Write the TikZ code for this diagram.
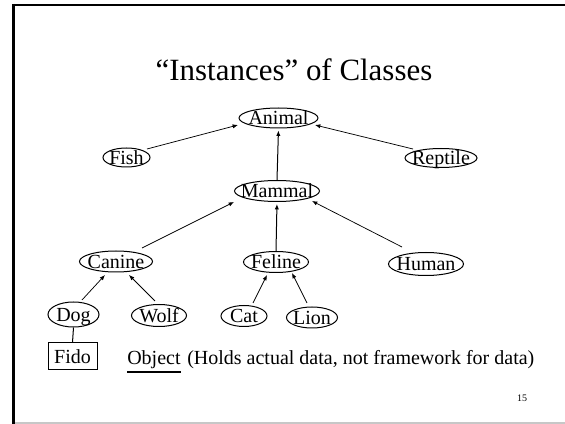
\documentclass[tikz,border=0pt]{standalone}
\usepackage{fontspec}
\setmainfont{Liberation Serif}
\usetikzlibrary{shapes.geometric,arrows.meta,calc}

% one screen pixel
\newdimen\pxu
\pxu=0.75pt
% label of zero width, so the ellipse size comes from the style alone
\newcommand{\lbl}[1]{\makebox[0pt]{#1}}

\tikzset{
  cls/.style 2 args={ellipse, draw, line width=1\pxu, inner sep=0pt,
    text height=9.9pt, text depth=0pt,
    minimum width=#1\pxu, minimum height=#2\pxu,
    font=\fontsize{15}{18}\selectfont},
  objbox/.style={rectangle, draw, line width=1\pxu, inner sep=0pt,
    text height=9.9pt, text depth=0pt,
    minimum width=49\pxu, minimum height=27\pxu,
    font=\fontsize{15}{18}\selectfont},
  plain/.style={inner sep=0pt, font=\fontsize{15}{18}\selectfont},
  isa/.style={line width=0.55pt, -{Latex[length=4pt, width=3.2pt]}},
  isav/.style={isa, line width=0.75pt, shorten >=2\pxu},
}

\begin{document}
\begin{tikzpicture}[x=0.75pt, y=-0.75pt]
  \useasboundingbox (0,0) rectangle (565,424);
  \fill[white] (0,0) rectangle (565,424);

  % slide frame
  \draw[line width=3\pxu] (13.5,4) -- (13.5,424);
  \draw[line width=2\pxu] (12,5) -- (565,5);
  \draw[black!22, line width=1.5\pxu] (15,423) -- (565,423);

  % title and page number
  \node[inner sep=0pt, anchor=base, font=\fontsize{23.2}{28}\selectfont]
    (title) at (294,81) {``Instances'' of Classes};
  \node[inner sep=0pt, anchor=base, font=\fontsize{7.5}{9}\selectfont]
    (pageno) at (522,402) {15};

  % class hierarchy
  \node[cls={79}{20}] (animal)  at (278.5,118)  {\lbl{Animal}};
  \node[cls={47}{19}] (fish)    at (126.5,157.5) {\lbl{Fish}};
  \node[cls={72}{19}] (reptile) at (441,158)    {\lbl{Reptile}};
  \node[cls={85}{21}] (mammal)  at (277,191)    {\lbl{Mammal}};
  \node[cls={73}{21}] (canine)  at (116,261.5)  {\lbl{Canine}};
  \node[cls={65}{21}] (feline)  at (276,262)    {\lbl{Feline}};
  \node[cls={75}{23}] (human)   at (426,264)    {\lbl{Human}};
  \node[cls={51}{25}] (dog)     at (73.5,314.5) {\lbl{Dog}};
  \node[cls={55}{22}] (wolf)    at (159,315.5)  {\lbl{Wolf}};
  \node[cls={46}{21}] (cat)     at (244,316)    {\lbl{Cat}};
  \node[cls={51}{21}] (lion)    at (312,317.5)  {\lbl{Lion}};

  % an object of class Dog
  \node[objbox] (fido) at (72.5,356.5) {Fido};
  \draw[line width=1\pxu] (dog.south) -- (fido.north);

  \node[plain, anchor=base west] (obj)  at (127,365) {Object};
  \draw[line width=1.2\pxu] ([yshift=-7\pxu]obj.base west) -- ([yshift=-7\pxu]obj.base east);
  \node[plain, anchor=base west] (note) at (187,365) {(Holds actual data, not framework for data)};

  % inheritance arrows
  \draw[isa] ($(fish)+(20.5,-8.5)$) -- ($(animal)+(-40.5,7)$);
  \draw[isa] ($(reptile)+(-28,-9)$) -- ($(animal)+(36.5,7)$);
  \draw[isav] (mammal.north) -- (animal.south);
  \draw[isa] ($(canine)+(26,-13.5)$) -- ($(mammal)+(-43,11)$);
  \draw[isav] (feline.north) -- (mammal.south);
  \draw[isa] ($(human)+(-24,-17)$) -- ($(mammal)+(35,10)$);
  \draw[isa] ($(dog)+(8.5,-14.5)$) -- ($(canine)+(-11,13.5)$);
  \draw[isa] ($(wolf)+(-4,-14.5)$) -- ($(canine)+(13,13.5)$);
  \draw[isa] ($(cat)+(9,-13)$) -- ($(feline)+(-9,13)$);
  \draw[isa] ($(lion)+(-5,-14.5)$) -- ($(feline)+(16,11)$);
\end{tikzpicture}
\end{document}
